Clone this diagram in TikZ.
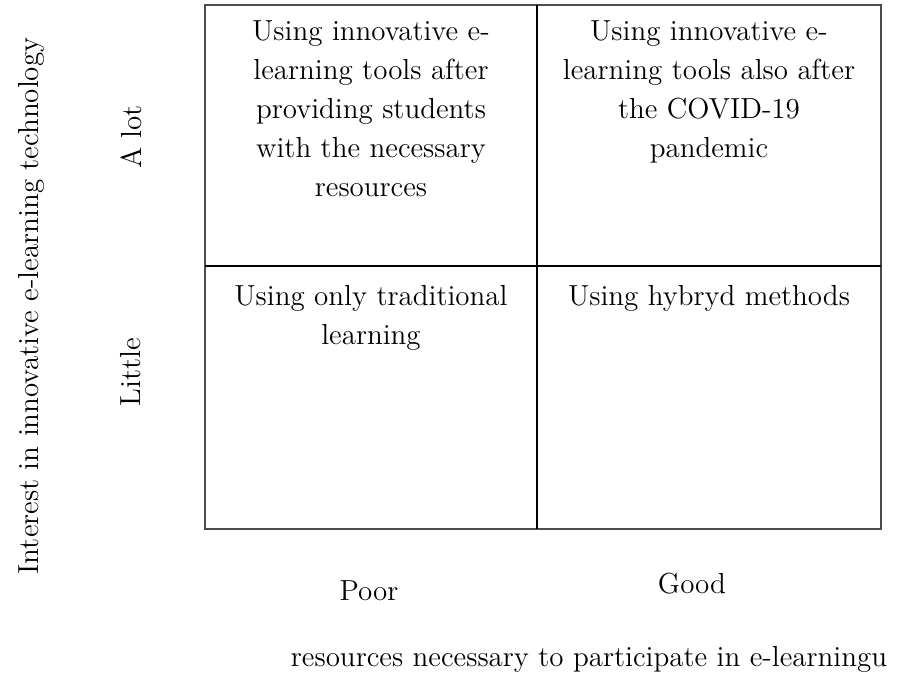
\documentclass[tikz,border=0pt]{standalone}
\usepackage{tikz}

\begin{document}
\begin{tikzpicture}[x=0.5pt, y=-0.5pt,
    every node/.style={font=\fontsize{14.5}{19.5}\selectfont, inner sep=0pt},
    cell/.style={align=center, anchor=north}]

    \useasboundingbox (0,0) rectangle (902,674);

    % === Grid limits ===
    \def\xl{205}  \def\xm{537}  \def\xr{881}
    \def\yt{5}    \def\ym{266}  \def\yb{529}

    % === Quadrant frame ===
    \draw[line width=1pt, black!70] (\xl,\yt) rectangle (\xr,\yb);
    \draw[line width=0.75pt] (\xm,\yt) -- (\xm,\yb);
    \draw[line width=0.75pt] (\xl,\ym) -- (\xr,\ym);

    % === Quadrant texts ===
    % A lot / Poor
    \node[cell] (lotpoor) at ({(\xl+\xm)/2}, 20)
    {Using innovative e-\\learning tools after\\providing students\\with the necessary\\resources};
    % A lot / Good
    \node[cell] (lotgood) at ({(\xm+\xr)/2}, 20)
    {Using innovative e-\\learning tools also after\\the COVID-19\\pandemic};
    % Little / Poor
    \node[cell] (littlepoor) at ({(\xl+\xm)/2}, 285)
    {Using only traditional\\learning};
    % Little / Good
    \node[cell] (littlegood) at ({(\xm+\xr)/2}, 285)
    {Using hybryd methods};

    % === Vertical axis ===
    \node[rotate=90] (alot) at (131, 137) {A lot};
    \node[rotate=90] (little) at (131, 372) {Little};
    \node[rotate=90] (yaxis) at (31, 306) {Interest in innovative e-learning technology};

    % === Horizontal axis ===
    \node (poor) at (369, 591) {Poor};
    \node (good) at (692, 584) {Good};
    \node (xaxis) at (589, 659) {resources necessary to participate in e-learningu};

\end{tikzpicture}
\end{document}
